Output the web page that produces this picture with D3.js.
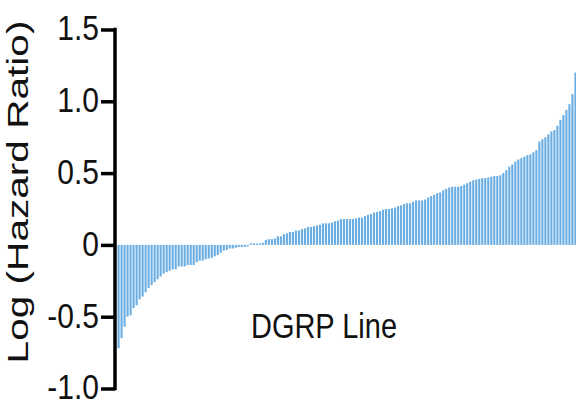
<!doctype html>
<html>
  <head>
    <script src="https://cdn.jsdelivr.net/npm/d3@7/dist/d3.min.js"></script>
    <style>
      body { margin: 0; background: #fff; }
      text { font-family: "Liberation Sans", Arial, sans-serif; }
    </style>
  </head>
  <body>
    <div id="chart"></div>
    <script>
      // log hazard ratio per DGRP line, sorted ascending
      var hazard = [
        -0.72, -0.65, -0.57, -0.50, -0.49, -0.44, -0.42, -0.38, -0.36, -0.33,
        -0.30, -0.28, -0.26, -0.24, -0.22, -0.20, -0.19, -0.18, -0.17, -0.17,
        -0.15, -0.15, -0.15, -0.14, -0.14, -0.14, -0.12, -0.11, -0.11, -0.10,
        -0.095, -0.09, -0.08, -0.07, -0.055, -0.04, -0.035, -0.025, -0.025, -0.02,
        -0.015, -0.015, -0.015, -0.01, 0.01, 0.01, 0.01, 0.01, 0.015, 0.035,
        0.04, 0.04, 0.045, 0.06, 0.06, 0.075, 0.08, 0.09, 0.09, 0.10,
        0.10, 0.11, 0.115, 0.125, 0.125, 0.13, 0.135, 0.14, 0.15, 0.15,
        0.15, 0.155, 0.165, 0.17, 0.18, 0.18, 0.18, 0.18, 0.18, 0.185,
        0.19, 0.19, 0.20, 0.21, 0.215, 0.225, 0.23, 0.235, 0.245, 0.25,
        0.25, 0.255, 0.26, 0.27, 0.275, 0.285, 0.29, 0.29, 0.30, 0.31,
        0.31, 0.31, 0.315, 0.33, 0.34, 0.35, 0.36, 0.365, 0.38, 0.39,
        0.40, 0.405, 0.405, 0.405, 0.41, 0.42, 0.43, 0.44, 0.45, 0.455,
        0.46, 0.465, 0.465, 0.47, 0.475, 0.48, 0.48, 0.485, 0.50, 0.52,
        0.545, 0.56, 0.58, 0.595, 0.605, 0.615, 0.625, 0.63, 0.645, 0.66,
        0.72, 0.735, 0.75, 0.77, 0.79, 0.80, 0.83, 0.87, 0.905, 0.94,
        0.98, 1.05, 1.20
      ];
      var lines = hazard.map(function(d, i) { return "line" + (i + 1); });
      var yTicks = [-1.0, -0.5, 0, 0.5, 1.0, 1.5];
      var yTickLabels = ["-1.0", "-0.5", "0", "0.5", "1.0", "1.5"];

      var width = 576, height = 403;

      var svg = d3.select("#chart")
        .append("svg")
        .attr("width", width)
        .attr("height", height);

      var x = d3.scaleBand()
        .domain(lines)
        .range([117.5, 576.5])
        .paddingInner(0.3)
        .paddingOuter(0);

      var y = d3.scaleLinear()
        .domain([-1, 1.5])
        .range([388.5, 29.5]);

      // bars
      svg.append("g")
        .selectAll("rect")
        .data(hazard)
        .enter()
        .append("rect")
          .attr("x", function(d, i) { return x(lines[i]); })
          .attr("width", x.bandwidth())
          .attr("y", function(d) { return y(Math.max(0, d)); })
          .attr("height", function(d) { return Math.abs(y(d) - y(0)); })
          .attr("fill", "#6aade2");

      // y axis
      var yAxis = d3.axisLeft(y)
        .tickValues(yTicks)
        .tickFormat(function(d, i) { return yTickLabels[i]; })
        .tickSize(14)
        .tickSizeOuter(0)
        .tickPadding(2);

      var ga = svg.append("g")
        .attr("transform", "translate(115,0)")
        .call(yAxis);
      ga.select(".domain")
        .attr("stroke", "#000")
        .attr("stroke-width", 3.5)
        .attr("d", "M0," + (y(1.5) - 1.75) + "V" + (y(-1) + 1.75));
      ga.selectAll(".tick line")
        .attr("stroke", "#000")
        .attr("stroke-width", 3.5);
      // the reference's lettering is taller than wide, so stretch it a bit
      ga.selectAll(".tick text")
        .attr("font-size", 30)
        .attr("fill", "#111")
        .attr("dy", "0.3em")
        .attr("transform", "scale(1,1.16)");

      // y label
      svg.append("text")
        .attr("transform", "translate(28,192) rotate(-90) scale(1.4,1)")
        .attr("text-anchor", "middle")
        .attr("font-size", 29)
        .attr("fill", "#111")
        .text("Log (Hazard Ratio)");

      // x label
      svg.append("text")
        .attr("transform", "translate(324,338) scale(1,1.18)")
        .attr("text-anchor", "middle")
        .attr("font-size", 29)
        .attr("fill", "#111")
        .text("DGRP Line");
    </script>
  </body>
</html>
